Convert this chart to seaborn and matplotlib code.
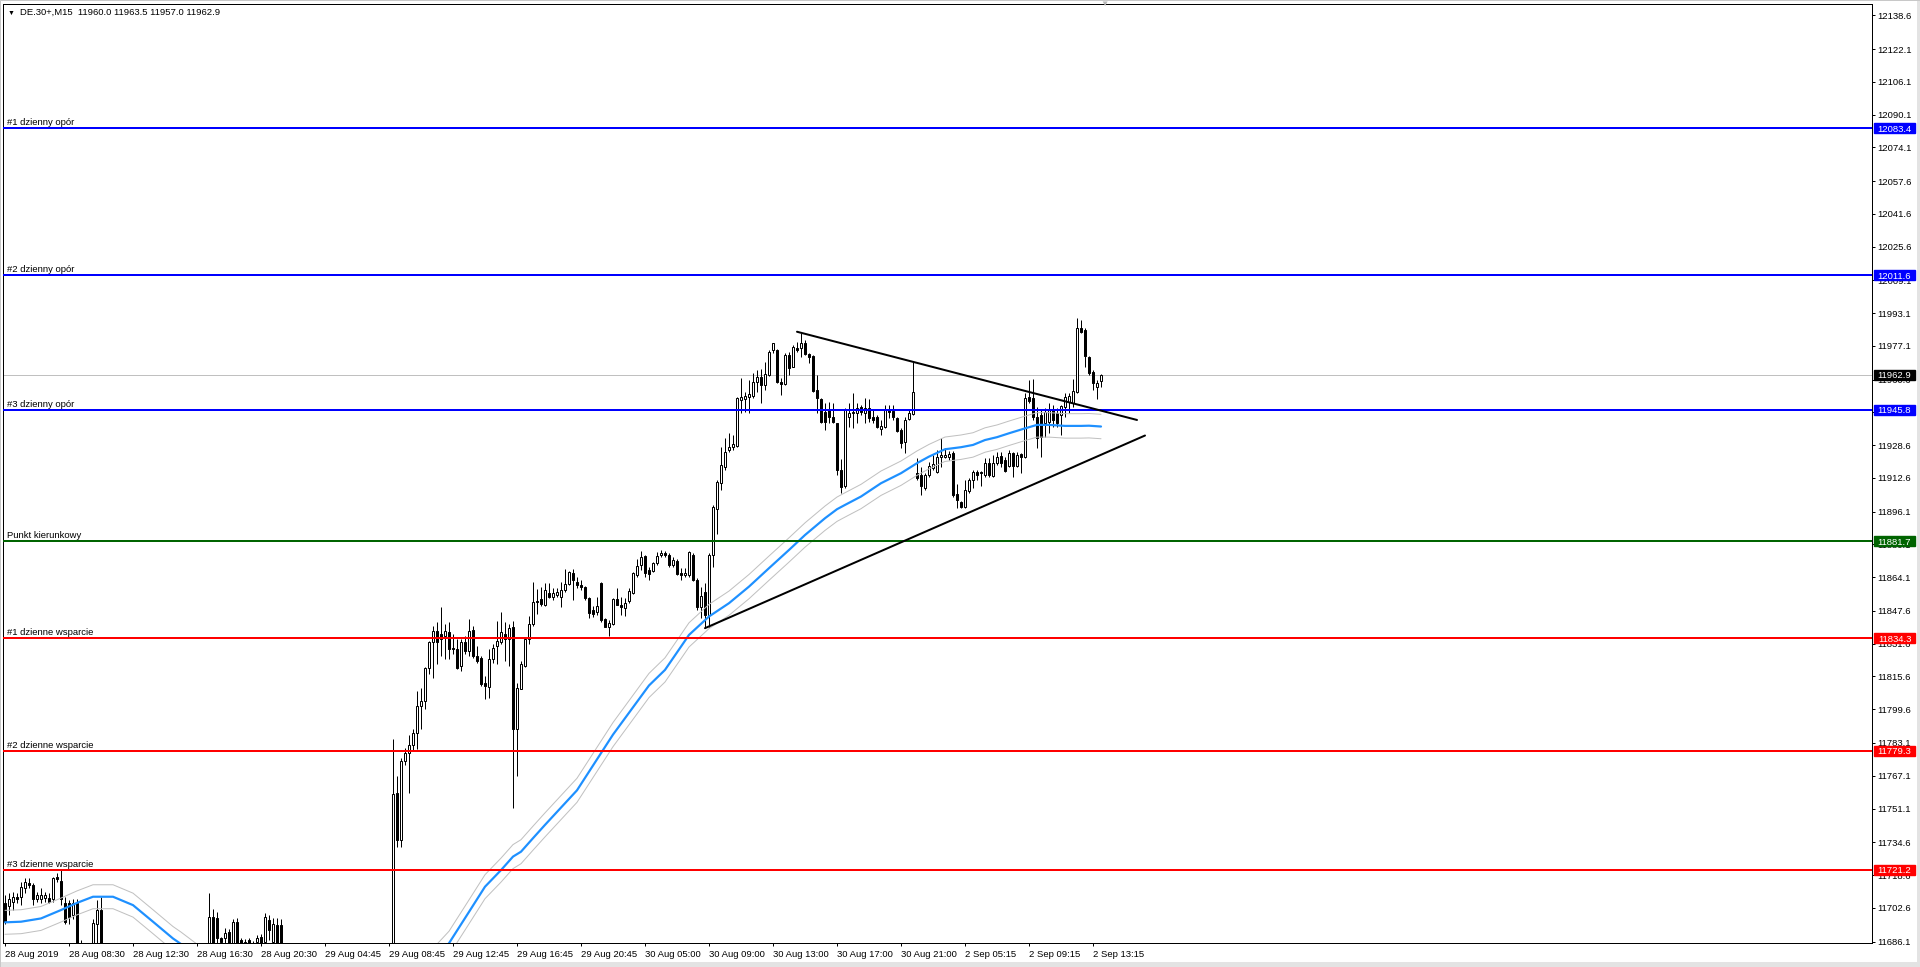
import numpy as np
import pandas as pd
import matplotlib
matplotlib.use("Agg")
import matplotlib.pyplot as plt
import matplotlib.transforms as mtransforms
from matplotlib.patches import Rectangle
import seaborn as sns

# ======================================================
# DATA  (DE.30+, M15, one value per bar, bar 0 = 28 Aug 2019)
# ======================================================
OPEN = [
    11704.7, 11703.4, 11705.5, 11707.7, 11707.7, 11712.5, 11714.5, 11713.7, 11706.7, 11706.7,
    11707.2, 11707.2, 11706.7, 11717.8, 11715.8, 11704.7, 11704.7, 11699.0, 11705.5, 11682.0,
    11678.0, 11675.0, 11684.0, 11694.9, 11701.5, 11680.0, 11665.0, 11660.0, 11664.0, 11661.0,
    11652.0, 11656.0, 11653.0, 11645.0, 11650.0, 11655.0, 11650.0, 11644.0, 11648.0, 11657.0,
    11653.0, 11658.0, 11662.0, 11660.0, 11664.0, 11668.0, 11666.0, 11670.0, 11674.0, 11672.0,
    11676.0, 11683.0, 11698.2, 11697.4, 11687.6, 11687.6, 11690.9, 11682.0, 11695.8, 11686.8,
    11684.0, 11686.8, 11685.5, 11686.0, 11688.5, 11686.0, 11696.6, 11686.0, 11694.2, 11694.2,
    11684.0, 11672.0, 11668.0, 11665.0, 11662.0, 11664.0, 11667.0, 11663.0, 11658.0, 11660.0,
    11662.0, 11659.0, 11654.0, 11656.0, 11652.0, 11650.0, 11653.0, 11657.0, 11655.0, 11651.0,
    11654.0, 11658.0, 11656.0, 11660.0, 11663.0, 11661.0, 11664.0, 11666.0, 11758.6, 11735.7,
    11774.2, 11778.2, 11782.3, 11788.0, 11801.4, 11803.6, 11819.6, 11832.2, 11837.9, 11836.2,
    11835.4, 11837.1, 11829.3, 11828.9, 11820.7, 11832.5, 11828.1, 11838.4, 11825.6, 11824.8,
    11812.2, 11810.6, 11824.3, 11830.5, 11832.5, 11836.2, 11833.8, 11840.0, 11789.7, 11809.6,
    11820.7, 11833.8, 11841.1, 11852.6, 11853.4, 11850.5, 11856.2, 11854.6, 11855.4, 11854.6,
    11857.8, 11860.8, 11866.3, 11861.9, 11860.3, 11859.1, 11853.8, 11848.1, 11847.3, 11861.1,
    11843.5, 11839.6, 11841.2, 11853.4, 11850.5, 11848.9, 11852.6, 11856.2, 11865.2, 11870.1,
    11874.5, 11867.6, 11867.3, 11870.9, 11875.0, 11875.8, 11875.0, 11870.1, 11872.2, 11866.0,
    11865.2, 11865.2, 11875.0, 11862.8, 11849.7, 11857.1, 11845.7, 11875.0, 11897.3, 11910.0,
    11918.1, 11926.3, 11927.6, 11928.2, 11950.7, 11951.0, 11952.0, 11952.6, 11959.6, 11962.1,
    11958.0, 11962.9, 11975.1, 11975.1, 11959.6, 11958.5, 11972.7, 11967.0, 11975.9, 11975.9,
    11978.7, 11973.1, 11972.2, 11955.6, 11951.0, 11945.0, 11946.1, 11942.5, 11939.3, 11916.5,
    11908.4, 11942.2, 11944.2, 11944.5, 11947.1, 11944.5, 11946.6, 11942.2, 11942.5, 11936.4,
    11937.3, 11946.1, 11945.5, 11941.7, 11936.0, 11930.3, 11941.4, 11943.8, 11914.9, 11914.1,
    11907.5, 11914.1, 11917.4, 11915.7, 11922.7, 11923.0, 11922.7, 11924.6, 11904.8, 11901.0,
    11898.6, 11906.4, 11911.6, 11915.7, 11915.7, 11914.1, 11920.1, 11913.6, 11919.7, 11923.3,
    11921.4, 11918.6, 11924.6, 11918.6, 11924.3, 11922.7, 11952.3, 11951.5, 11942.5, 11943.4,
    11939.3, 11940.1, 11945.8, 11944.2, 11943.4, 11947.4, 11949.9, 11949.1, 11954.8, 11985.7,
    11984.9, 11971.5, 11964.5, 11956.9, 11960.0,
]
HIGH = [
    11708.8, 11709.6, 11710.4, 11709.6, 11715.3, 11717.0, 11717.0, 11714.5, 11710.4, 11712.1,
    11710.4, 11709.6, 11717.8, 11719.4, 11721.0, 11708.0, 11706.4, 11707.0, 11707.0, 11687.0,
    11682.0, 11684.0, 11697.0, 11706.4, 11708.0, 11684.0, 11670.0, 11668.0, 11672.0, 11666.0,
    11660.0, 11662.0, 11658.0, 11655.0, 11658.0, 11662.0, 11656.0, 11652.0, 11660.0, 11664.0,
    11660.0, 11668.0, 11670.0, 11666.0, 11672.0, 11675.0, 11672.0, 11678.0, 11680.0, 11679.0,
    11682.0, 11709.6, 11702.0, 11700.7, 11688.5, 11692.5, 11692.0, 11697.0, 11697.4, 11687.6,
    11687.5, 11688.0, 11686.5, 11689.5, 11690.0, 11700.0, 11699.0, 11697.4, 11697.5, 11697.0,
    11684.0, 11678.0, 11674.0, 11670.0, 11668.0, 11670.0, 11672.0, 11668.0, 11664.0, 11666.0,
    11668.0, 11663.0, 11660.0, 11662.0, 11658.0, 11656.0, 11660.0, 11664.0, 11661.0, 11657.0,
    11660.0, 11664.0, 11662.0, 11666.0, 11670.0, 11667.0, 11670.0, 11785.1, 11766.8, 11775.8,
    11780.7, 11787.2, 11789.7, 11808.5, 11810.0, 11820.0, 11833.0, 11840.3, 11842.0, 11849.3,
    11841.1, 11842.0, 11836.2, 11833.8, 11833.8, 11835.4, 11843.6, 11840.3, 11830.5, 11825.6,
    11815.8, 11828.9, 11831.3, 11842.8, 11846.9, 11842.0, 11841.1, 11842.8, 11812.5, 11823.2,
    11834.6, 11845.2, 11861.6, 11858.3, 11859.1, 11861.1, 11861.1, 11858.7, 11858.7, 11861.9,
    11867.9, 11867.1, 11867.9, 11864.4, 11862.7, 11859.8, 11854.6, 11850.0, 11854.6, 11861.9,
    11844.0, 11843.2, 11853.8, 11858.7, 11854.6, 11853.8, 11858.7, 11866.8, 11872.8, 11877.1,
    11875.0, 11868.9, 11871.7, 11876.6, 11877.4, 11877.1, 11875.8, 11873.8, 11872.8, 11868.4,
    11868.4, 11877.1, 11875.8, 11863.6, 11859.5, 11861.1, 11875.8, 11899.4, 11911.6, 11927.9,
    11932.0, 11934.4, 11933.6, 11952.0, 11961.2, 11954.7, 11960.4, 11963.7, 11965.3, 11965.7,
    11969.4, 11975.1, 11978.4, 11975.4, 11961.2, 11973.5, 11974.3, 11977.5, 11979.2, 11983.6,
    11980.0, 11973.5, 11972.7, 11962.9, 11951.5, 11949.1, 11949.9, 11949.1, 11939.6, 11922.0,
    11946.6, 11949.1, 11954.0, 11949.1, 11948.2, 11951.5, 11951.0, 11945.8, 11943.4, 11940.9,
    11948.2, 11948.2, 11948.2, 11942.2, 11936.8, 11942.2, 11945.8, 11969.4, 11922.2, 11918.1,
    11914.9, 11920.6, 11923.8, 11926.3, 11932.0, 11927.1, 11925.5, 11925.5, 11909.7, 11901.5,
    11911.6, 11912.4, 11916.5, 11916.5, 11916.2, 11922.2, 11922.2, 11923.8, 11925.4, 11925.4,
    11923.0, 11926.3, 11925.4, 11925.4, 11924.6, 11953.9, 11960.5, 11960.8, 11947.4, 11945.8,
    11946.6, 11949.1, 11948.2, 11946.6, 11948.2, 11953.9, 11954.3, 11960.8, 11990.6, 11989.8,
    11985.7, 11972.2, 11965.3, 11960.5, 11963.5,
]
LOW = [
    11694.9, 11699.0, 11701.5, 11704.7, 11703.9, 11709.6, 11712.1, 11703.9, 11705.5, 11704.7,
    11705.5, 11704.7, 11705.5, 11715.3, 11703.9, 11694.9, 11694.9, 11697.0, 11680.0, 11675.0,
    11670.0, 11672.0, 11680.0, 11685.0, 11675.0, 11660.0, 11655.0, 11652.0, 11658.0, 11648.0,
    11645.0, 11650.0, 11640.0, 11642.0, 11646.0, 11648.0, 11640.0, 11638.0, 11645.0, 11650.0,
    11646.0, 11654.0, 11656.0, 11652.0, 11660.0, 11662.0, 11660.0, 11665.0, 11668.0, 11667.0,
    11671.0, 11680.0, 11678.0, 11684.0, 11684.0, 11685.5, 11678.0, 11679.0, 11678.0, 11680.0,
    11680.0, 11680.0, 11680.0, 11684.0, 11680.0, 11684.0, 11687.0, 11684.0, 11680.0, 11680.0,
    11668.0, 11664.0, 11660.0, 11658.0, 11656.0, 11660.0, 11660.0, 11655.0, 11652.0, 11655.0,
    11657.0, 11650.0, 11648.0, 11650.0, 11645.0, 11644.0, 11648.0, 11652.0, 11649.0, 11645.0,
    11650.0, 11653.0, 11650.0, 11655.0, 11658.0, 11655.0, 11659.0, 11662.0, 11732.5, 11732.5,
    11772.5, 11758.6, 11779.9, 11780.0, 11789.7, 11799.5, 11816.6, 11815.0, 11821.5, 11825.6,
    11824.0, 11824.0, 11826.4, 11819.1, 11818.3, 11826.4, 11825.6, 11824.8, 11822.4, 11810.9,
    11804.4, 11805.2, 11822.4, 11821.5, 11831.3, 11823.2, 11820.7, 11751.3, 11766.8, 11809.3,
    11820.4, 11831.3, 11840.3, 11846.0, 11850.1, 11850.0, 11853.8, 11853.0, 11854.6, 11849.7,
    11857.0, 11860.3, 11853.0, 11858.7, 11857.8, 11853.0, 11844.0, 11844.5, 11845.6, 11842.4,
    11839.6, 11835.4, 11840.8, 11850.3, 11845.6, 11845.1, 11851.3, 11855.9, 11864.4, 11867.6,
    11864.4, 11862.7, 11866.8, 11870.1, 11874.1, 11873.8, 11869.2, 11869.2, 11865.2, 11862.7,
    11864.4, 11864.4, 11862.0, 11848.0, 11844.0, 11840.0, 11840.0, 11869.3, 11885.0, 11906.7,
    11916.5, 11925.4, 11926.3, 11927.9, 11944.2, 11945.0, 11944.2, 11951.5, 11954.7, 11949.1,
    11955.6, 11962.4, 11973.5, 11958.8, 11953.1, 11958.0, 11962.9, 11966.6, 11974.3, 11971.8,
    11972.7, 11968.6, 11954.7, 11944.2, 11939.3, 11936.0, 11939.3, 11939.3, 11914.1, 11905.1,
    11907.5, 11937.7, 11936.8, 11939.3, 11943.4, 11939.3, 11940.1, 11939.3, 11936.8, 11933.6,
    11936.8, 11941.7, 11940.9, 11935.2, 11927.1, 11924.6, 11940.9, 11943.4, 11911.6, 11904.3,
    11906.7, 11913.2, 11916.5, 11914.9, 11918.1, 11922.2, 11921.4, 11903.5, 11897.8, 11897.8,
    11897.8, 11905.1, 11907.5, 11911.6, 11908.4, 11913.2, 11913.2, 11913.2, 11918.9, 11918.1,
    11915.7, 11918.1, 11913.2, 11918.1, 11914.9, 11922.2, 11949.1, 11940.9, 11927.1, 11922.7,
    11932.8, 11934.4, 11937.7, 11937.7, 11933.6, 11942.5, 11944.2, 11947.4, 11953.9, 11983.3,
    11967.0, 11962.9, 11955.6, 11951.0, 11957.0,
]
CLOSE = [
    11695.8, 11706.7, 11707.7, 11706.7, 11712.9, 11715.3, 11713.7, 11706.7, 11708.8, 11708.8,
    11708.8, 11705.5, 11717.0, 11716.5, 11706.7, 11695.8, 11698.2, 11704.7, 11682.0, 11678.0,
    11675.0, 11680.0, 11695.0, 11701.5, 11680.0, 11665.0, 11660.0, 11664.0, 11661.0, 11652.0,
    11656.0, 11653.0, 11645.0, 11650.0, 11655.0, 11650.0, 11644.0, 11648.0, 11657.0, 11653.0,
    11658.0, 11662.0, 11660.0, 11664.0, 11668.0, 11666.0, 11670.0, 11674.0, 11672.0, 11676.0,
    11678.0, 11698.2, 11682.0, 11687.6, 11686.0, 11690.1, 11683.0, 11695.8, 11682.0, 11684.0,
    11686.0, 11683.0, 11683.0, 11687.6, 11684.0, 11698.2, 11691.7, 11694.9, 11684.0, 11684.0,
    11672.0, 11668.0, 11665.0, 11662.0, 11664.0, 11667.0, 11663.0, 11658.0, 11660.0, 11662.0,
    11659.0, 11654.0, 11656.0, 11652.0, 11650.0, 11653.0, 11657.0, 11655.0, 11651.0, 11654.0,
    11658.0, 11656.0, 11660.0, 11663.0, 11661.0, 11664.0, 11666.0, 11758.1, 11735.7, 11774.2,
    11778.2, 11782.3, 11788.0, 11801.4, 11803.6, 11819.6, 11832.2, 11837.9, 11832.2, 11833.8,
    11837.9, 11828.9, 11828.9, 11819.9, 11832.2, 11828.1, 11837.9, 11825.6, 11823.2, 11811.7,
    11810.9, 11824.3, 11829.7, 11833.0, 11837.1, 11833.8, 11839.5, 11789.7, 11810.1, 11821.5,
    11834.1, 11841.1, 11851.8, 11852.1, 11851.0, 11857.8, 11854.6, 11856.5, 11857.0, 11857.8,
    11860.8, 11866.8, 11862.7, 11860.3, 11859.1, 11853.8, 11846.4, 11846.1, 11850.0, 11843.2,
    11839.9, 11841.9, 11853.4, 11850.5, 11849.4, 11851.7, 11857.4, 11866.0, 11869.6, 11873.8,
    11866.0, 11865.5, 11870.9, 11874.5, 11876.1, 11875.0, 11870.1, 11872.5, 11865.5, 11865.2,
    11866.0, 11876.4, 11862.8, 11849.7, 11854.9, 11845.7, 11875.0, 11898.2, 11910.8, 11918.9,
    11925.4, 11927.9, 11929.2, 11951.5, 11952.3, 11952.6, 11953.6, 11959.6, 11962.1, 11958.0,
    11963.2, 11974.3, 11978.4, 11959.6, 11958.5, 11972.7, 11966.2, 11976.7, 11975.1, 11978.4,
    11973.1, 11971.8, 11955.2, 11951.5, 11940.1, 11940.1, 11942.5, 11940.1, 11916.5, 11908.3,
    11946.1, 11944.5, 11945.0, 11946.6, 11945.0, 11946.6, 11941.7, 11940.9, 11937.3, 11938.0,
    11946.1, 11945.0, 11942.2, 11935.7, 11929.5, 11940.9, 11944.2, 11954.8, 11912.4, 11908.4,
    11914.1, 11918.4, 11919.4, 11923.0, 11923.8, 11923.8, 11924.3, 11904.3, 11901.8, 11898.6,
    11906.7, 11911.6, 11915.7, 11914.1, 11914.9, 11920.1, 11914.1, 11919.8, 11923.0, 11919.7,
    11916.2, 11924.6, 11918.6, 11923.8, 11922.7, 11951.5, 11950.4, 11942.2, 11932.0, 11932.8,
    11945.0, 11945.8, 11940.9, 11939.6, 11947.7, 11952.3, 11952.6, 11955.2, 11985.7, 11984.1,
    11972.2, 11964.0, 11958.8, 11958.8, 11962.9,
]

# moving average (bar index -> value)
MA_BARS = [0, 4, 9, 14, 18, 22, 27, 32, 37, 42, 44, 48, 56, 64, 72, 80, 88, 96, 100, 104,
           108, 111, 116, 120, 124, 127, 129, 132, 135, 143, 152, 161, 165, 171, 176, 181,
           186, 191, 196, 200, 205, 208, 210, 214, 219, 224, 228, 231, 235, 239, 242, 245,
           248, 251, 255, 258, 261, 265, 269, 271, 274]
MA_VALUES = [11695.5, 11695.8, 11697.4, 11701.5, 11705.0, 11708.0, 11708.0, 11703.9, 11695.8,
             11687.6, 11684.9, 11679.0, 11672.0, 11668.0, 11662.0, 11658.0, 11656.0, 11658.0,
             11664.0, 11671.0, 11679.0, 11685.3, 11700.6, 11712.9, 11721.0, 11727.6, 11730.0,
             11736.6, 11743.1, 11760.0, 11787.2, 11811.2, 11818.8, 11835.9, 11844.9, 11851.4,
             11859.5, 11868.5, 11877.4, 11884.7, 11892.9, 11897.3, 11899.4, 11903.5, 11910.0,
             11914.9, 11919.8, 11923.0, 11926.6, 11927.6, 11928.7, 11931.1, 11932.5, 11934.4,
             11936.8, 11938.5, 11938.5, 11938.0, 11938.0, 11938.1, 11937.7]
ENVELOPE_PCT = 0.05

LEVEL_NAMES = ["#1 dzienny opór", "#2 dzienny opór", "#3 dzienny opór", "Punkt kierunkowy",
               "#1 dzienne wsparcie", "#2 dzienne wsparcie", "#3 dzienne wsparcie"]
LEVEL_PRICES = [12083.4, 12011.6, 11945.8, 11881.7, 11834.3, 11779.3, 11721.2]
LEVEL_COLORS = ["#0000FF", "#0000FF", "#0000FF", "#006400", "#FF0000", "#FF0000", "#FF0000"]

TREND_UPPER_BARS = [198, 283]
TREND_UPPER_PRICES = [11984.0, 11940.9]
TREND_LOWER_BARS = [175, 285]
TREND_LOWER_PRICES = [11839.2, 11933.3]

BID = 11962.9
TITLE = "DE.30+,M15  11960.0 11963.5 11957.0 11962.9"

X_TICK_LABELS = ["28 Aug 2019", "28 Aug 08:30", "28 Aug 12:30", "28 Aug 16:30", "28 Aug 20:30",
                 "29 Aug 04:45", "29 Aug 08:45", "29 Aug 12:45", "29 Aug 16:45", "29 Aug 20:45",
                 "30 Aug 05:00", "30 Aug 09:00", "30 Aug 13:00", "30 Aug 17:00", "30 Aug 21:00",
                 "2 Sep 05:15", "2 Sep 09:15", "2 Sep 13:15"]
BARS_PER_LABEL = 16
Y_TICKS = [12138.6, 12122.1, 12106.1, 12090.1, 12074.1, 12057.6, 12041.6, 12025.6, 12009.1,
           11993.1, 11977.1, 11960.6, 11944.6, 11928.6, 11912.6, 11896.1, 11880.1, 11864.1,
           11847.6, 11831.6, 11815.6, 11799.6, 11783.1, 11767.1, 11751.1, 11734.6, 11718.6,
           11702.6, 11686.1]

# ======================================================
# LAYOUT (pixels of a 1920x967 canvas)
# ======================================================
W, H = 1920, 967
PX = 72.0 / 100  # one pixel in points
FS = 6.8


def main():
    sns.set_theme(style="white")
    plt.rcParams['font.family'] = ['Liberation Sans', 'DejaVu Sans']

    df = pd.DataFrame({"open": OPEN, "high": HIGH, "low": LOW, "close": CLOSE})
    df["bar"] = np.arange(len(df))

    fig = plt.figure(figsize=(W / 100, H / 100), dpi=100)
    fig.patch.set_facecolor("white")

    # light window frame around the chart
    fig.add_artist(Rectangle((0, 0), 1, 5 / H, transform=fig.transFigure,
                             facecolor="#E3E3E3", edgecolor="none"))
    fig.add_artist(Rectangle((1917 / W, 0), 3 / W, 1, transform=fig.transFigure,
                             facecolor="#E3E3E3", edgecolor="none"))
    fig.add_artist(Rectangle((0, 0), 1, 1, transform=fig.transFigure,
                             facecolor="none", edgecolor="#C8C8C8", lw=PX))

    ax = fig.add_axes([3 / W, (H - 943) / H, 1869 / W, 939 / H])
    ax.set_facecolor("white")
    ax.set_xlim(-0.5, 466.75)
    ax.set_ylim(11685.4, 12144.1)

    # candles
    up = df["close"] > df["open"]
    ax.vlines(df["bar"], df["low"], df["high"], color="black", lw=PX, zorder=3)
    body_lo = df[["open", "close"]].min(axis=1)
    body_h = (df["close"] - df["open"]).abs()
    ax.bar(df["bar"], body_h, bottom=body_lo, width=0.55,
           color=np.where(up, "white", "black"), edgecolor="black",
           linewidth=PX, zorder=4)

    # moving average + envelopes
    ma = pd.DataFrame({"bar": MA_BARS, "ma": MA_VALUES})
    ma["upper"] = ma["ma"] * (1 + ENVELOPE_PCT / 100)
    ma["lower"] = ma["ma"] * (1 - ENVELOPE_PCT / 100)
    for col in ["upper", "lower"]:
        sns.lineplot(data=ma, x="bar", y=col, ax=ax, color="#C0C0C0", lw=PX,
                     estimator=None, sort=False, zorder=5)
    sns.lineplot(data=ma, x="bar", y="ma", ax=ax, color="#1E90FF", lw=2.2 * PX,
                 estimator=None, sort=False, zorder=6)

    # bid line
    ax.axhline(BID, color="#C0C0C0", lw=PX, zorder=2)

    # levels
    ytrans = mtransforms.blended_transform_factory(ax.transAxes, ax.transData)
    for name, price, col in zip(LEVEL_NAMES, LEVEL_PRICES, LEVEL_COLORS):
        ax.axhline(price, color=col, lw=2 * PX, zorder=7)
        ax.annotate(name, xy=(0, price), xycoords=ytrans, xytext=(2.7, 0.6),
                    textcoords="offset points", fontsize=FS, color="black",
                    va="bottom", ha="left", zorder=8)

    # trend lines
    ax.plot(TREND_UPPER_BARS, TREND_UPPER_PRICES, color="black", lw=2 * PX, zorder=8)
    ax.plot(TREND_LOWER_BARS, TREND_LOWER_PRICES, color="black", lw=2 * PX, zorder=8)

    # axes styling
    for s in ax.spines.values():
        s.set_color("black")
        s.set_linewidth(PX)
    ax.grid(False)
    ax.yaxis.tick_right()
    ax.set_yticks(Y_TICKS)
    ax.set_yticklabels([f"{v:.1f}" for v in Y_TICKS])
    ax.tick_params(axis="y", direction="out", length=3 * PX, width=PX, pad=1.8,
                   labelsize=FS, colors="black", right=True, left=False)
    xt = np.arange(len(X_TICK_LABELS)) * BARS_PER_LABEL
    ax.set_xticks(xt)
    ax.set_xticklabels(X_TICK_LABELS, ha="left")
    ax.tick_params(axis="x", direction="out", length=3 * PX, width=PX, pad=3,
                   labelsize=FS, colors="black", bottom=True)
    ax.set_xlabel("")
    ax.set_ylabel("")

    # price tags on the right scale
    box_x0 = (1874 - 3) / 1869
    box_w = 41 / 1869
    box_h = 10 / 2.047
    tags = list(zip(LEVEL_PRICES, LEVEL_COLORS)) + [(BID, "black")]
    for price, col in tags:
        ax.add_patch(Rectangle((box_x0, price - box_h / 2), box_w, box_h,
                               transform=ytrans, facecolor=col, edgecolor=col,
                               clip_on=False, zorder=9))
        ax.text(box_x0 + box_w / 2, price, f"{price:.1f}", transform=ytrans,
                fontsize=FS, color="white", ha="center", va="center_baseline",
                clip_on=False, zorder=10)

    # header
    fig.text(8 / W, 1 - 13 / H, "▼", fontsize=5, color="black", va="center", ha="left")
    fig.text(20.5 / W, 1 - 12.5 / H, TITLE, fontsize=FS, color="black",
             va="center", ha="left")
    fig.text(1104 / W, 1 - 4 / H, "▼", fontsize=6, color="#B8B8B8",
             va="center", ha="center")

    fig.savefig("out.png", dpi=100)
    plt.close(fig)


if __name__ == "__main__":
    main()
